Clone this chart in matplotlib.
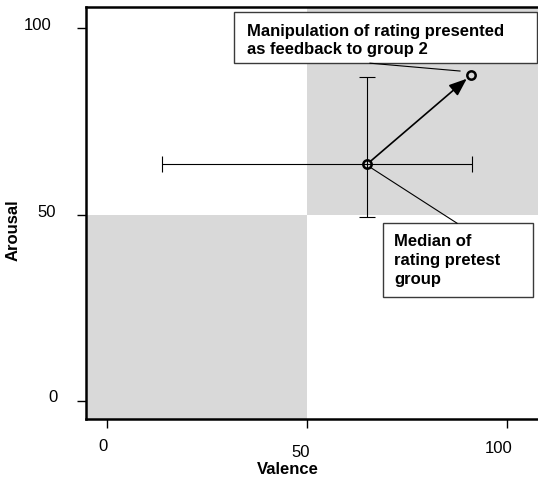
import matplotlib
matplotlib.use("Agg")
import matplotlib.pyplot as plt
from matplotlib.patches import Rectangle
from matplotlib.transforms import ScaledTranslation

plt.rcParams['font.family'] = ['Liberation Sans', 'DejaVu Sans']

# ---- data ----
median_valence = 65.0
median_arousal = 63.5
valence_range = [13.75, 91.25]   # horizontal error bar (low, high)
arousal_range = [49.3, 86.9]     # vertical error bar (low, high)
manip_valence = 91.0
manip_arousal = 87.4
quadrant_split = 50
x_ticks = [0, 50, 100]
y_ticks = [0, 50, 100]
box1_text = "Manipulation of rating presented\nas feedback to group 2"
box2_text = "Median of\nrating pretest\ngroup"

W, H = 538, 481
fig = plt.figure(figsize=(W / 100, H / 100), dpi=100)
# axes in pixel layout
left_px, right_px, top_px, bottom_px = 86, 538, 7.5, 420
ax = fig.add_axes([left_px / W, 1 - bottom_px / H, (right_px - left_px) / W, (bottom_px - top_px) / H])
xmin, xmax = -5.25, 107.75
ymin, ymax = -4.8, 105.8
ax.set_xlim(xmin, xmax)
ax.set_ylim(ymin, ymax)

shade = '#d9d9d9'
ax.add_patch(Rectangle((quadrant_split, quadrant_split), xmax - quadrant_split, ymax - quadrant_split,
                       facecolor=shade, edgecolor='none', zorder=0))
ax.add_patch(Rectangle((xmin, ymin), quadrant_split - xmin, quadrant_split - ymin,
                       facecolor=shade, edgecolor='none', zorder=0))

# error bars
ax.errorbar([median_valence], [median_arousal],
            xerr=[[median_valence - valence_range[0]], [valence_range[1] - median_valence]],
            yerr=[[median_arousal - arousal_range[0]], [arousal_range[1] - median_arousal]],
            fmt='none', ecolor='black', elinewidth=0.8, capsize=5.5, capthick=0.8, zorder=2)

# arrow median -> manipulated
ax.annotate('', xy=(manip_valence, manip_arousal), xytext=(median_valence, median_arousal),
            arrowprops=dict(arrowstyle='-|>,head_length=0.9,head_width=0.35', color='black',
                            lw=1.2, shrinkA=3, shrinkB=4, mutation_scale=12), zorder=3)

# points
ax.plot([median_valence, manip_valence], [median_arousal, manip_arousal], 'o',
        mfc='none', mec='black', mew=1.8, ms=6, zorder=4)

# annotation boxes and leader lines
box_ec = '#3a3a3a'
ax.add_patch(Rectangle((31.75, 90.6), 107.5 - 31.75, 104.3 - 90.6,
                       facecolor='white', edgecolor=box_ec, lw=1.0, zorder=5, clip_on=False))
ax.text(35.0, 101.5, box1_text, fontsize=12, fontweight='bold', ha='left', va='top',
        linespacing=1.32, zorder=6)
ax.plot([65.75, 88.25], [90.6, 88.5], color='black', lw=0.8, zorder=5)

ax.add_patch(Rectangle((69.0, 27.9), 106.5 - 69.0, 47.7 - 27.9,
                       facecolor='white', edgecolor=box_ec, lw=1.0, zorder=5, clip_on=False))
ax.text(71.75, 45.0, box2_text, fontsize=12, fontweight='bold', ha='left', va='top',
        linespacing=1.32, zorder=6)
ax.plot([median_valence + 0.8, 87.5], [median_arousal - 0.8, 47.7], color='black', lw=0.8, zorder=5)

# frame
for s in ['left', 'bottom', 'top']:
    ax.spines[s].set_linewidth(1.8)
ax.spines['right'].set_visible(False)

ax.set_xticks(x_ticks)
ax.set_yticks(y_ticks)
ax.tick_params(axis='both', direction='out', length=6.5, width=1.0, labelsize=12)
ax.tick_params(axis='x', pad=7.5)
ax.tick_params(axis='y', pad=16)

# slight per-label offsets (pixels) as in reference
xoff = [(-4, 0), (-6, -6), (-8, -2)]
for lab, (dx, dy) in zip(ax.get_xticklabels(), xoff):
    lab.set_transform(lab.get_transform() + ScaledTranslation(dx / 100, dy / 100, fig.dpi_scale_trans))
yoff = [(3, 6), (1, 5), (-3, 5)]
for lab, (dx, dy) in zip(ax.get_yticklabels(), yoff):
    lab.set_transform(lab.get_transform() + ScaledTranslation(dx / 100, dy / 100, fig.dpi_scale_trans))

ax.set_xlabel('Valence', fontsize=12, fontweight='bold')
ax.xaxis.set_label_coords((288 - left_px) / (right_px - left_px), (bottom_px - 462) / (bottom_px - top_px))
ax.set_ylabel('Arousal', fontsize=12, fontweight='bold')
ax.yaxis.set_label_coords((21 - left_px) / (right_px - left_px), (bottom_px - 230) / (bottom_px - top_px))

fig.savefig('out.png', dpi=100)
